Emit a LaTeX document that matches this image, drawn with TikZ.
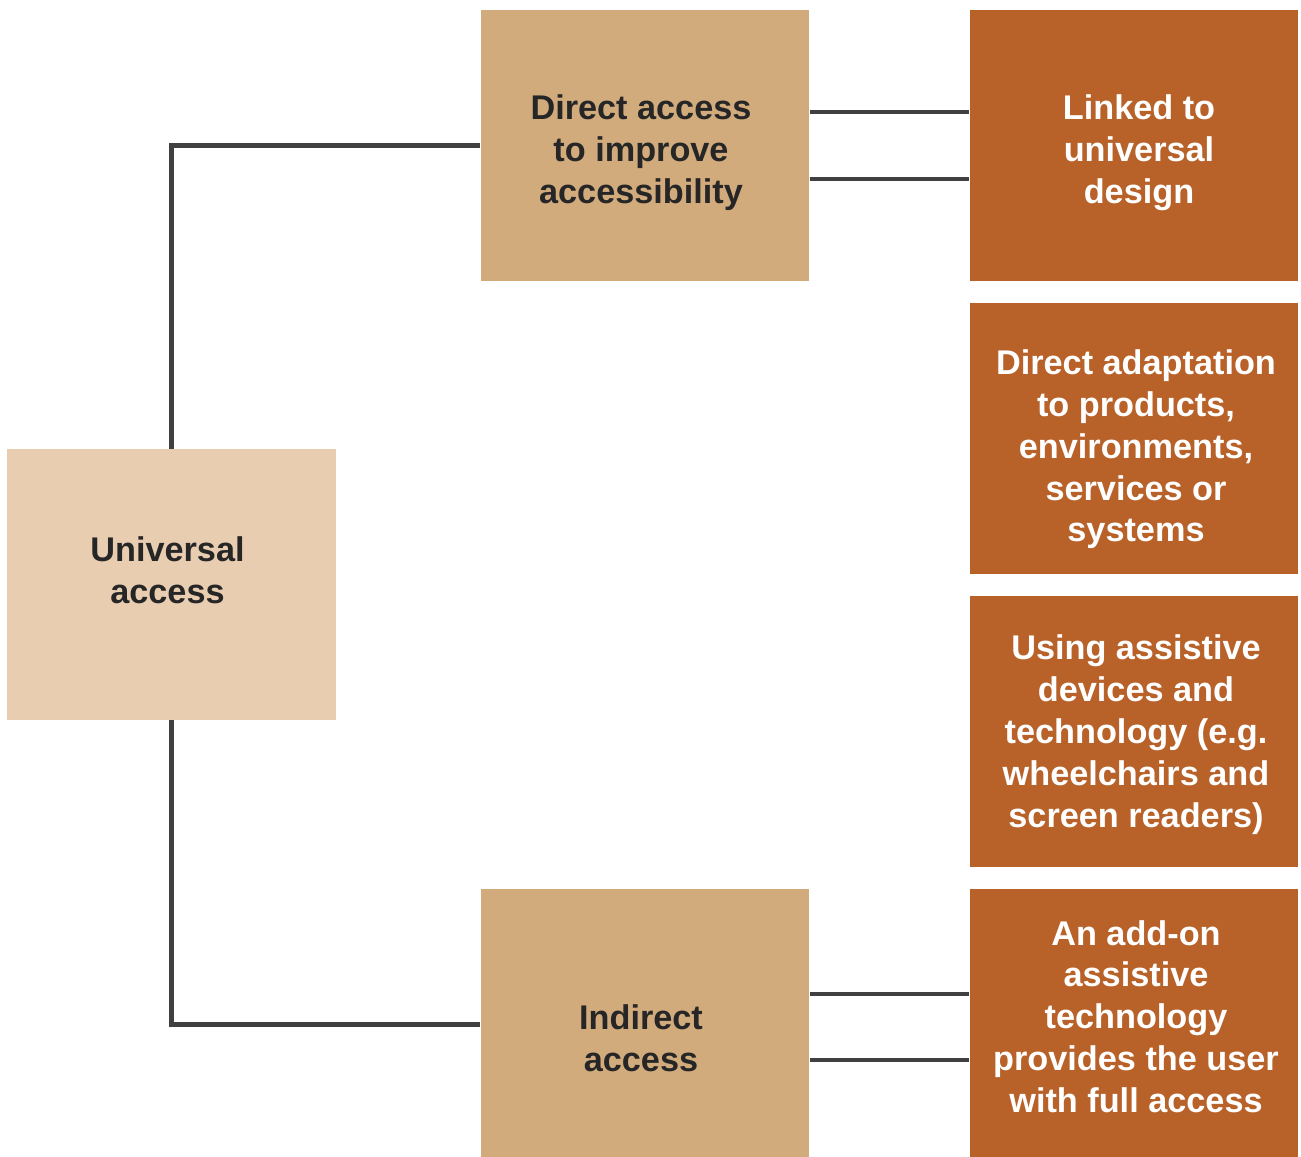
\documentclass[tikz,border=0pt]{standalone}
\usepackage{fontspec}
\setmainfont{Liberation Sans}
\usetikzlibrary{positioning}
\definecolor{univfill}{HTML}{E9CDB1}
\definecolor{midfill}{HTML}{D2AB7D}
\definecolor{rightfill}{HTML}{B8622A}
\definecolor{linkgray}{HTML}{404040}
\tikzset{
  box/.style={minimum width=6.58cm, minimum height=5.42cm, inner sep=0pt},
  boxtext/.style={align=center, inner sep=0pt,
    font=\fontsize{19.5}{23.8}\selectfont\bfseries},
  darktext/.style={boxtext, text=black!85},
  lighttext/.style={boxtext, text=white},
  univbox/.style={box, fill=univfill},
  midbox/.style={box, fill=midfill},
  rightbox/.style={box, fill=rightfill},
  link/.style={draw=linkgray, line width=2.5pt}
}
\begin{document}
\begin{tikzpicture}[x=0.02cm, y=-0.02cm]
\useasboundingbox (0,0) rectangle (1301,1156);

% left column
\node[univbox, label={[darktext, xshift=-0.08cm, yshift=0.28cm]center:Universal\\access}] (univ) at (171.5,584.5) {};

% middle column
\node[midbox, label={[darktext, xshift=-0.08cm, yshift=-0.14cm]center:Direct access\\to improve\\accessibility}] (direct) at (645,145.5) {};
\node[midbox, label={[darktext, xshift=-0.08cm, yshift=-0.28cm]center:Indirect\\access}] (indirect) at (645,1024.5) {};

% right column
\node[rightbox, label={[lighttext, xshift=0.1cm, yshift=-0.14cm]center:Linked to\\universal\\design}] (linked) at (1134,145.5) {};
\node[rightbox, label={[lighttext, xshift=0.04cm, yshift=-0.22cm]center:Direct adaptation\\to products,\\environments,\\services or\\systems}] (adapt) at (1134,438.5) {};
\node[rightbox, label={[lighttext, xshift=0.04cm, yshift=-0.06cm]center:Using assistive\\devices and\\technology (e.g.\\wheelchairs and\\screen readers)}] (assist) at (1134,731.5) {};
\node[rightbox, label={[lighttext, xshift=0.04cm, yshift=0.16cm]center:An add-on\\assistive\\technology\\provides the user\\with full access}] (addon) at (1134,1024.5) {};

% connections
\draw[link] (univ.north) |- (direct.west);
\draw[link] (univ.south) |- (indirect.west);
\draw[link] ([yshift=0.67cm]direct.east) -- ([yshift=0.67cm]linked.west);
\draw[link] ([yshift=-0.67cm]direct.east) -- ([yshift=-0.67cm]linked.west);
\draw[link] ([yshift=0.61cm]indirect.east) -- ([yshift=0.61cm]addon.west);
\draw[link] ([yshift=-0.71cm]indirect.east) -- ([yshift=-0.71cm]addon.west);
\end{tikzpicture}
\end{document}
